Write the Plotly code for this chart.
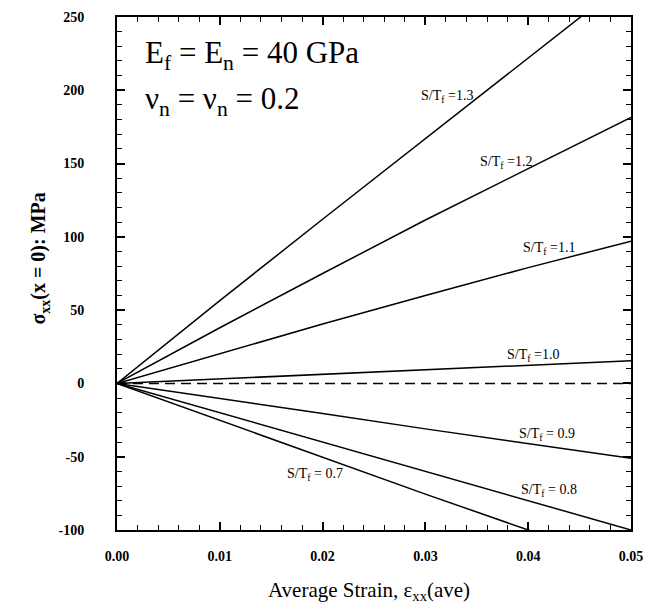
import plotly.graph_objects as go

# ---- data ----
strain = [0.0, 0.01, 0.02, 0.03, 0.04, 0.05]
s13 = [0, 56.5, 112, 167, 222, 277]
s12 = [0, 38, 75, 111.5, 146.5, 181.5]
s11 = [0, 20.5, 40.5, 60, 79, 97]
s10 = [0, 3.1, 6.2, 9.3, 12.4, 15.5]
s09 = [0, -10, -20.5, -31, -41, -51]
s08 = [0, -20, -40, -60, -80, -100]
s07 = [0, -25.3, -50.5, -75.5, -100, -125]
zero_line = [0, 0, 0, 0, 0, 0]

series = [s13, s12, s11, s10, s09, s08, s07]
labels = ["S/T<sub>f</sub> =1.3", "S/T<sub>f</sub> =1.2", "S/T<sub>f</sub> =1.1",
          "S/T<sub>f</sub> =1.0", "S/T<sub>f</sub> = 0.9", "S/T<sub>f</sub> = 0.8",
          "S/T<sub>f</sub> = 0.7"]
label_x = [0.0321, 0.0378, 0.0420, 0.0405, 0.0418, 0.0420, 0.0193]
label_y = [196, 151, 92, 19, -35, -73, -62]

x_ticks = [0.0, 0.01, 0.02, 0.03, 0.04, 0.05]
x_ticktext = ["0.00", "0.01", "0.02", "0.03", "0.04", "0.05"]
y_ticks = [-100, -50, 0, 50, 100, 150, 200, 250]
y_ticktext = ["-100", "-50", "0", "50", "100", "150", "200", "250"]

FONT = "Liberation Serif"

fig = go.Figure()
for s in series:
    fig.add_trace(go.Scatter(x=strain, y=s, mode="lines",
                             line=dict(color="black", width=1.5),
                             showlegend=False, hoverinfo="skip"))
fig.add_trace(go.Scatter(x=strain, y=zero_line, mode="lines",
                         line=dict(color="black", width=1.5, dash="10px,6px"),
                         showlegend=False, hoverinfo="skip"))

for t, lx, ly in zip(labels, label_x, label_y):
    fig.add_annotation(x=lx, y=ly, text=t, showarrow=False,
                       font=dict(family=FONT, size=14, color="black"))

fig.add_annotation(x=0.00253, y=224, text="E<sub>f</sub> = E<sub>n</sub> = 40 GPa",
                   showarrow=False, xanchor="left",
                   font=dict(family=FONT, size=31, color="black"))
fig.add_annotation(x=0.00253, y=193, text="ν<sub>n</sub> = ν<sub>n</sub> = 0.2",
                   showarrow=False, xanchor="left",
                   font=dict(family=FONT, size=31, color="black"))

# axis titles
fig.add_annotation(xref="paper", yref="paper", x=-0.179, y=0.53,
                   text="σ<sub>xx</sub>(x = 0): MPa", textangle=-90, showarrow=False,
                   font=dict(family=FONT, size=20, color="black", weight="bold"))
fig.add_annotation(xref="paper", yref="paper", x=0.49, y=-0.148,
                   text="Average Strain, ε<sub>xx</sub>(ave)", showarrow=False,
                   font=dict(family=FONT, size=21, color="black"))

axis_common = dict(showline=True, linecolor="black", linewidth=2, mirror="allticks",
                   ticks="inside", ticklen=8, tickwidth=1.5, tickcolor="black",
                   showgrid=False, zeroline=False,
                   tickfont=dict(family=FONT, size=14, color="black", weight="bold"))

fig.update_xaxes(range=[0, 0.05], tickvals=x_ticks, ticktext=x_ticktext,
                 ticklabelstandoff=12,
                 minor=dict(ticks="inside", ticklen=5, dtick=0.002, tickcolor="black",
                            tickwidth=1.2, showgrid=False),
                 **axis_common)
fig.update_yaxes(range=[-100, 250], tickvals=y_ticks, ticktext=y_ticktext,
                 ticklabelstandoff=28,
                 minor=dict(ticks="inside", ticklen=5, dtick=10, tickcolor="black",
                            tickwidth=1.2, showgrid=False),
                 **axis_common)

fig.update_layout(width=655, height=610, margin=dict(l=117, r=24, t=10, b=80),
                  paper_bgcolor="white", plot_bgcolor="white",
                  font=dict(family=FONT, color="black"))

fig.write_html("out.html")
